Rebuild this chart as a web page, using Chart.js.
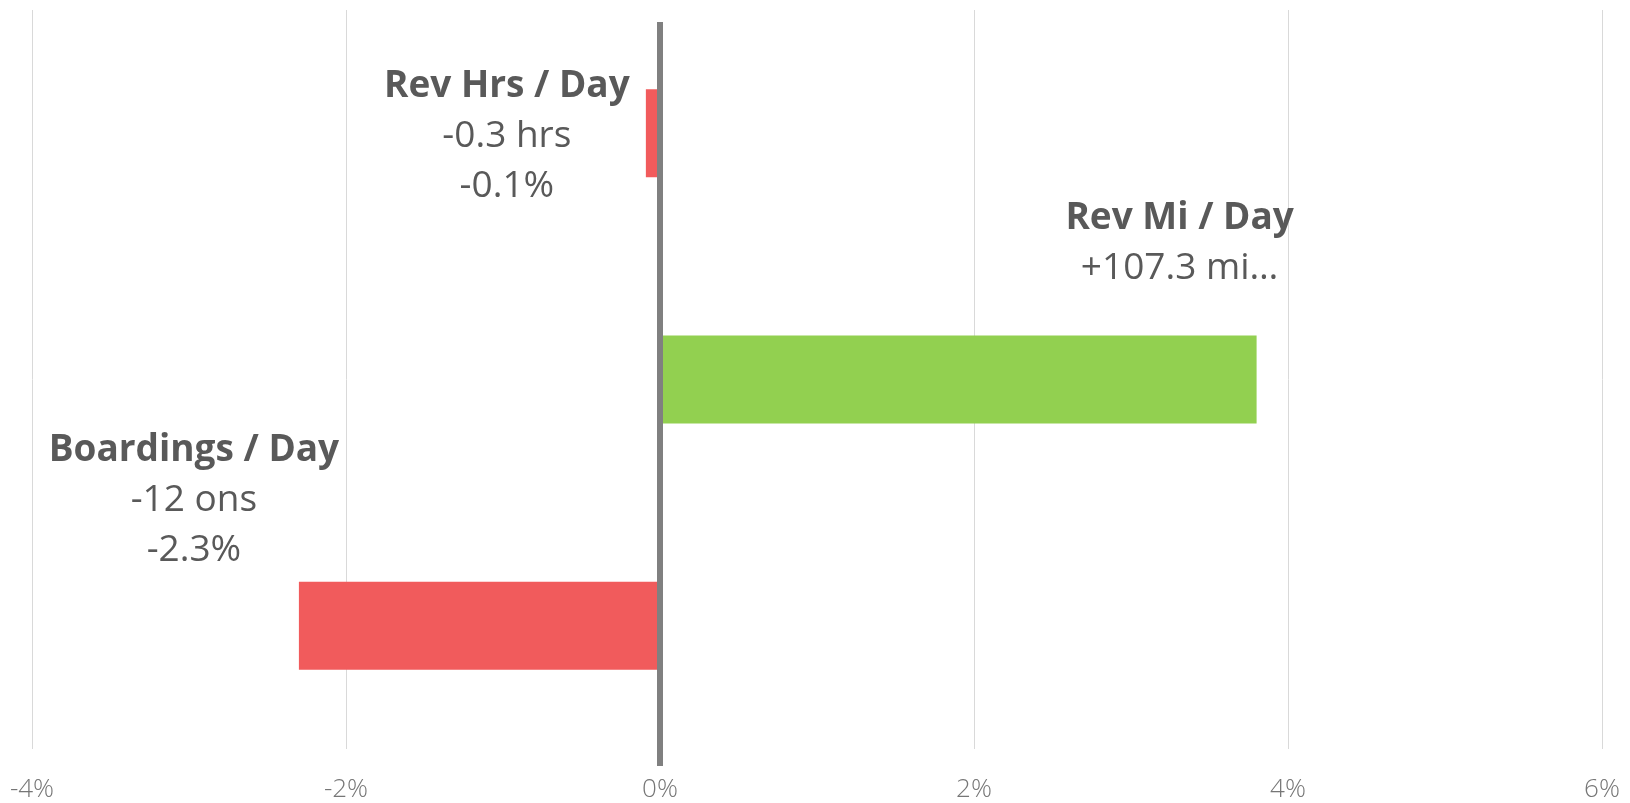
<!DOCTYPE html>
<html>
<head>
<meta charset="utf-8">
<script src="https://cdn.jsdelivr.net/npm/chart.js@4/dist/chart.umd.min.js"></script>
<style>
  html, body { margin: 0; padding: 0; background: #ffffff; }
  #wrap { width: 1630px; height: 803px; position: relative; }
</style>
</head>
<body>
<div id="wrap"><canvas id="c"></canvas></div>
<script>
// ---- data ----
const categories = ['Rev Hrs / Day', 'Rev Mi / Day', 'Boardings / Day'];
const pctChange = [-0.09, 3.8, -2.3];
const absChangeText = ['-0.3 hrs', '+107.3 mi\u2026', '-12 ons'];
const pctChangeText = ['-0.1%', '', '-2.3%'];
const xTickValues = [-4, -2, 0, 2, 4, 6];

// ---- style ----
const RED = '#F15B5C';
const GREEN = '#92D050';
const TEXT = '#595959';
const FONT = '"Open Sans", "Noto Sans", sans-serif';
// label placement relative to bar end (x) and bar centre (y): centre x offset, first baseline offset
const labelPlacement = [
  { dx: -139, dy: -36.5 },
  { dx: -77, dy: -150.5 },
  { dx: -105, dy: -164.5 }
];
const LINE_GAP = 50;

const barLabels = {
  id: 'barLabels',
  afterDatasetsDraw(chart) {
    const ctx = chart.ctx;
    const xs = chart.scales.x;
    const area = chart.chartArea;
    // zero line
    const x0 = xs.getPixelForValue(0);
    ctx.save();
    ctx.fillStyle = '#808080';
    ctx.fillRect(x0 - 3, area.top + 12, 6, area.bottom - area.top + 5);
    ctx.restore();

    const meta = chart.getDatasetMeta(0);
    ctx.save();
    ctx.textAlign = 'center';
    ctx.textBaseline = 'alphabetic';
    ctx.fillStyle = TEXT;
    meta.data.forEach((bar, i) => {
      const p = labelPlacement[i];
      const cx = bar.x + p.dx;
      let y = bar.y + p.dy;
      ctx.font = 'bold 37px ' + FONT;
      ctx.fillText(categories[i], cx, y);
      ctx.font = '37px ' + FONT;
      y += LINE_GAP;
      ctx.fillText(absChangeText[i], cx, y);
      if (pctChangeText[i]) {
        y += LINE_GAP;
        ctx.fillText(pctChangeText[i], cx, y);
      }
    });
    ctx.restore();
  }
};

new Chart(document.getElementById('c'), {
  type: 'bar',
  data: {
    labels: categories,
    datasets: [{
      data: pctChange,
      backgroundColor: pctChange.map(v => v < 0 ? RED : GREEN),
      borderWidth: 0,
      categoryPercentage: 1,
      barPercentage: 0.357
    }]
  },
  options: {
    indexAxis: 'y',
    responsive: true,
    maintainAspectRatio: false,
    animation: false,
    layout: { padding: { left: 32, right: 28, top: 10, bottom: 0 } },
    plugins: { legend: { display: false }, tooltip: { enabled: false } },
    scales: {
      x: {
        type: 'linear',
        min: xTickValues[0],
        max: xTickValues[xTickValues.length - 1],
        afterBuildTicks: (scale) => { scale.ticks = xTickValues.map(v => ({ value: v })); },
        afterFit: (scale) => {
          scale.height = 54;
          scale.paddingLeft = 0;
          scale.paddingRight = 0;
        },
        border: { display: false },
        grid: {
          drawTicks: false,
          color: (c) => c.tick && c.tick.value === 0 ? 'rgba(0,0,0,0)' : '#d9d9d9',
          lineWidth: 1
        },
        ticks: {
          padding: 28,
          color: '#767676',
          font: { family: FONT, size: 26, weight: 300, lineHeight: 1.0 },
          callback: (v) => v + '%'
        }
      },
      y: { display: false }
    }
  },
  plugins: [barLabels]
});
</script>
</body>
</html>
